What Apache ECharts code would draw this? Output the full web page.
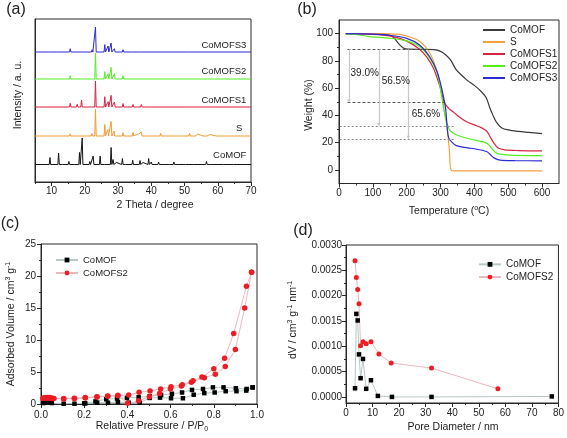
<!DOCTYPE html>
<html><head><meta charset="utf-8">
<script src="https://cdn.jsdelivr.net/npm/echarts@6/dist/echarts.min.js"></script>
<style>html,body{margin:0;padding:0;background:#fff}#c{width:567px;height:438px}</style>
</head><body><div id="c"></div>
<script>
// ---------- (a) XRD: baselines (offset units) and peaks [2theta, height] ----------
const xrdNames = ['CoMOF', 'S', 'CoMOFS1', 'CoMOFS2', 'CoMOFS3'];
const xrdBase = [17.5, 46, 75, 103, 130];
const xrdCoMOF = [[9.5,7],[12.1,11.5],[13.5,1.5],[15.2,3],[17.2,1.5],[18.4,12],[19.2,26.5],[21.5,3],[22.5,8.5],[24.6,8.5],[26.2,2],[27.9,17],[28.5,5],[29.5,2],[31.3,6],[32.5,1.5],[34.4,4.3],[36.6,4],[37.5,2],[39.2,6],[40.0,2.5],[42.2,2.5],[44.0,1.5],[45.8,2],[46.8,2.5],[48.5,1.5],[50.5,1.5],[53.0,1],[56.6,3],[58.0,1.5],[62.0,1],[65.0,1]];
const xrdS = [[11.5,1],[15.6,2.2],[19.0,1],[22.1,2.5],[23.2,26.7],[24.5,1.5],[26.0,11.5],[26.9,6.5],[27.9,14.5],[28.8,5],[29.5,1.5],[31.5,3.3],[33.0,1.3],[34.5,3.7],[35.5,1.5],[36.2,2],[37.0,4],[38.8,1.5],[40.0,1],[42.8,2.7],[44.5,1],[46.5,1.5],[48.3,1.8],[50.0,1],[51.5,2.7],[52.3,1.2],[53.0,2],[54.0,2],[55.8,1.7],[57.0,1.2],[57.6,1.5],[59.8,1.2],[62.0,0.8],[65.6,1],[68.0,0.8]];
const xrdS1 = [[11.8,1.8],[15.6,3.7],[17.7,2.7],[19.0,7],[22.2,2],[23.2,26],[26.0,10.3],[27.0,5.3],[27.9,11.7],[28.9,5],[31.5,3.5],[33.0,1],[34.5,2.5],[36.0,1.2],[37.0,2.5],[38.8,1],[42.8,2],[46.5,1],[48.3,1.2],[51.4,2],[53.0,1.5],[54.0,1.2],[56.0,1],[58.0,0.8]];
const xrdS2 = [[11.8,1.5],[15.6,3.3],[19.2,1.5],[22.2,1.5],[23.2,25.7],[26.0,7.3],[27.0,5.3],[27.9,11.7],[28.9,5.3],[31.5,3.3],[34.5,2],[37.0,1.8],[42.8,1.5],[48.3,0.8],[51.4,1.5],[53.0,1],[55.8,0.8]];
const xrdS3 = [[9.2,0.8],[12.0,1.7],[15.6,3.3],[22.2,2.3],[23.2,25],[26.0,7.3],[27.0,6],[27.9,9],[28.9,3.3],[31.5,2.3],[34.5,1.7],[37.0,1.5],[42.8,1.2],[48.0,0.8],[51.4,1.2],[53.0,1],[57.0,0.6]];
const aXTicks = [10, 20, 30, 40, 50, 60, 70];
const aXMinor = [5, 15, 25, 35, 45, 55, 65];

// ---------- (b) TGA [T, weight %] ----------
const tgaCoMOF = [[20,100],[100,100],[140,99.5],[160,97.5],[175,93],[190,89.5],[205,88.6],[250,88.5],[280,88.3],[300,87],[315,84.5],[330,80.5],[345,74],[360,70],[380,65.5],[400,62],[420,57.5],[435,53],[445,46],[455,40],[465,35],[480,31],[500,29.3],[530,28.2],[560,27.5],[600,26.6]];
const tgaS = [[20,100],[100,100],[180,99.5],[210,97.5],[235,95],[255,90.5],[270,85],[285,76],[297,64],[305,53],[312,42],[319,32],[326,15],[333,-0.5],[400,-0.8],[600,-0.8]];
const tgaS1 = [[20,100],[100,99.5],[150,98.3],[200,94.5],[238,88.5],[260,82.5],[280,74],[297,62],[305,55],[312,49],[325,45],[340,42],[357,38.5],[380,35],[400,33],[420,31],[436,28.5],[446,24.5],[458,19.5],[470,16],[490,14.7],[530,14.2],[600,13.9]];
const tgaS2 = [[20,100],[60,99],[90,97.8],[150,96.6],[200,94.7],[238,90.5],[268,82],[290,71],[302,56],[310,44],[317,36],[325,30],[337,27],[360,24.5],[390,22.5],[426,20.5],[440,19],[450,16],[462,13],[475,11.5],[520,10.7],[600,10.5]];
const tgaS3 = [[20,100],[100,99.7],[150,98.8],[200,96.5],[238,91.7],[268,83],[290,72],[305,58],[315,45],[320,30],[324,23.5],[335,20],[345,18],[370,16.5],[400,15.5],[436,13.5],[446,11.5],[458,8.8],[476,7.2],[520,6.8],[600,6.6]];
const bXTicks = [0, 100, 200, 300, 400, 500, 600];
const bXMinor = [50, 150, 250, 350, 450, 550];
const bYTicks = [0, 20, 40, 60, 80, 100];
const bYMinor = [10, 30, 50, 70, 90];
const lossLabels = ['39.0%', '56.5%', '65.6%'];

// ---------- (c) isotherms [P/P0, volume] ----------
const isoCoMOFads = [[0.01,0.15],[0.02,0.2],[0.03,0.2],[0.04,0.2],[0.05,0.15],[0.105,0.05],[0.155,0.05],[0.205,0.1],[0.26,0.2],[0.31,0.2],[0.356,0.3],[0.406,0.2],[0.457,0.2],[0.503,0.95],[0.551,1.0],[0.602,0.9],[0.657,0.9],[0.707,1.45],[0.756,1.7],[0.804,1.8],[0.855,2.0],[0.905,2.0],[0.95,2.1],[0.98,2.6]];
const isoCoMOFdes = [[0.98,2.6],[0.952,2.35],[0.902,2.45],[0.845,2.6],[0.796,2.6],[0.75,2.35],[0.699,2.2],[0.653,1.8],[0.606,1.6],[0.556,1.4],[0.503,1.2],[0.452,1.05],[0.398,0.95],[0.352,0.85],[0.302,0.75],[0.252,0.4],[0.2,0.1]];
const isoS2ads = [[0.01,0.9],[0.02,0.95],[0.03,0.95],[0.04,0.9],[0.05,0.85],[0.105,0.8],[0.155,0.85],[0.205,0.95],[0.259,1.1],[0.309,1.2],[0.356,1.3],[0.401,0.1],[0.452,0.5],[0.502,1.15],[0.549,1.65],[0.599,2.35],[0.65,2.8],[0.696,3.4],[0.756,4.1],[0.807,4.65],[0.853,5.85],[0.90,8.5],[0.943,15.0],[0.975,20.6]];
const isoS2des = [[0.975,20.6],[0.951,18.4],[0.892,11.0],[0.850,7.15],[0.80,5.5],[0.745,4.2],[0.704,3.65],[0.654,3.0],[0.602,2.7],[0.554,2.35],[0.505,2.04],[0.454,1.83],[0.406,1.4],[0.356,1.36],[0.309,1.25],[0.259,1.15],[0.205,1.0],[0.154,0.89],[0.105,0.84],[0.06,0.85],[0.05,0.95],[0.04,1.0],[0.03,1.0],[0.02,1.0],[0.01,0.9]];
const cXTicks = [0, 0.2, 0.4, 0.6, 0.8, 1.0];
const cXMinor = [0.1, 0.3, 0.5, 0.7, 0.9];
const cYTicks = [0, 5, 10, 15, 20, 25];
const cYMinor = [2.5, 7.5, 12.5, 17.5, 22.5];

// ---------- (d) pore size [nm, dV] ----------
const poreCoMOF = [[3.4,0.00017],[3.9,0.00164],[4.4,0.00151],[4.9,0.00084],[5.5,0.00037],[6.4,0.00075],[7.6,0.00016],[9.4,0.00033],[12.0,0.00002],[17.3,0.0],[32.2,0.0],[77.5,0.00001]];
const poreS2 = [[3.4,0.00269],[3.9,0.00236],[4.4,0.00212],[4.9,0.00184],[5.5,0.00101],[6.4,0.00109],[7.6,0.00105],[9.4,0.00109],[12.4,0.00085],[17.0,0.00067],[32.2,0.00057],[57.2,0.00016]];
const dXTicks = [0, 10, 20, 30, 40, 50, 60, 70, 80];
const dXMinor = [5, 15, 25, 35, 45, 55, 65, 75];
const dYTicks = [0, 0.0005, 0.001, 0.0015, 0.002, 0.0025, 0.003];
const dYMinor = [0.00025, 0.00075, 0.00125, 0.00175, 0.00225, 0.00275];

// ---------------------------------------------------------------
const FF = '"Liberation Sans", Arial, sans-serif';
const AX = '#2a2a2a';

function xrdLine(base, peaks) {
  const pts = [[5, base]];
  peaks.slice().sort((a, b) => a[0] - b[0]).forEach(p => {
    pts.push([p[0] - 0.22, base], [p[0], base + p[1]], [p[0] + 0.22, base]);
  });
  pts.push([70, base]);
  return pts;
}

function mainAxis(grid, min, max, ticks, fmt, pos, margin, showLabel) {
  return {
    type: 'value', gridIndex: grid, min: min, max: max, position: pos,
    axisLine: { show: true, onZero: false, lineStyle: { color: AX, width: 1 } },
    axisTick: { show: ticks.length > 0, customValues: ticks, length: 4, lineStyle: { color: AX, width: 1 } },
    axisLabel: { show: showLabel !== false, customValues: ticks, formatter: fmt, fontSize: 10, color: '#222', fontFamily: FF, margin: margin },
    splitLine: { show: false }
  };
}
function minorAxis(grid, min, max, ticks, pos) {
  return {
    type: 'value', gridIndex: grid, min: min, max: max, position: pos,
    axisLine: { show: false, onZero: false },
    axisTick: { show: ticks.length > 0, customValues: ticks, length: 2, lineStyle: { color: AX, width: 1 } },
    axisLabel: { show: false },
    splitLine: { show: false }
  };
}
const gridStyle = { show: true, borderColor: AX, borderWidth: 1, backgroundColor: 'transparent' };

const xAxis = [
  mainAxis(0, 5, 70, aXTicks, v => String(v), 'bottom', 4),
  minorAxis(0, 5, 70, aXMinor, 'bottom'),
  mainAxis(1, 0, 650, bXTicks, v => String(v), 'bottom', 5),
  minorAxis(1, 0, 650, bXMinor, 'bottom'),
  mainAxis(2, 0, 1, cXTicks, v => v.toFixed(1), 'bottom', 6),
  minorAxis(2, 0, 1, cXMinor, 'bottom'),
  mainAxis(3, 0, 80, dXTicks, v => String(v), 'bottom', 5),
  minorAxis(3, 0, 80, dXMinor, 'bottom')
];
const yAxis = [
  mainAxis(0, 0, 163, [], v => '', 'left', 4, false),
  minorAxis(0, 0, 163, [], 'left'),
  mainAxis(1, -10, 110, bYTicks, v => String(v), 'left', 6),
  minorAxis(1, -10, 110, bYMinor, 'left'),
  mainAxis(2, 0, 25, cYTicks, v => String(v), 'left', 5),
  minorAxis(2, 0, 25, cYMinor, 'left'),
  mainAxis(3, -0.00012, 0.003, dYTicks, v => v.toFixed(4), 'left', 4),
  minorAxis(3, -0.00012, 0.003, dYMinor, 'left')
];

const xrdColors = ['#151515', '#f39a33', '#d8213d', '#52ee24', '#2a2ad2'];
const xrdData = [xrdCoMOF, xrdS, xrdS1, xrdS2, xrdS3];
const xrdLabelDy = [8.8, 8, 7, 7.3, 6.3];
const xrdLabelX = [68.6, 67.4, 68.6, 68.6, 68.6];

const series = [];
xrdNames.forEach((n, i) => {
  series.push({
    name: n + '#a', type: 'line', xAxisIndex: 0, yAxisIndex: 0,
    data: xrdLine(xrdBase[i], xrdData[i]), symbol: 'none',
    lineStyle: { color: xrdColors[i], width: 1 }, itemStyle: { color: xrdColors[i] },
    markPoint: {
      symbol: 'circle', symbolSize: 0, silent: true, animation: false,
      label: { show: true, position: 'left', distance: 0, formatter: '{b}', color: '#222', fontSize: 9.5, fontFamily: FF },
      data: [{ name: n, coord: [xrdLabelX[i], xrdBase[i] + xrdLabelDy[i]] }]
    }
  });
});

const tgaColors = ['#3a3a3a', '#f5a23e', '#d8243e', '#55ee22', '#2b2bd6'];
const tgaData = [tgaCoMOF, tgaS, tgaS1, tgaS2, tgaS3];
xrdNames.forEach((n, i) => {
  series.push({
    name: n, type: 'line', xAxisIndex: 2, yAxisIndex: 2,
    data: tgaData[i], symbol: 'none', smooth: 0.3,
    lineStyle: { color: tgaColors[i], width: 1.2 }, itemStyle: { color: tgaColors[i] }
  });
});
// guide lines, arrows and loss labels for (b)
series.push({
  name: 'guides#b', type: 'line', xAxisIndex: 2, yAxisIndex: 2, data: [], symbol: 'none',
  markLine: {
    silent: true, animation: false, symbol: ['none', 'none'], label: { show: false },
    data: [
      [{ coord: [25, 88.5], lineStyle: { color: '#444', type: [3, 2], width: 0.9 } }, { coord: [292, 88.5] }],
      [{ coord: [25, 49.6], lineStyle: { color: '#444', type: [3, 2], width: 0.9 } }, { coord: [310, 49.6] }],
      [{ coord: [2, 32.2], lineStyle: { color: '#8a8a8a', type: [2, 2], width: 1 } }, { coord: [345, 32.2] }],
      [{ coord: [2, 22.8], lineStyle: { color: '#8a8a8a', type: [2, 2], width: 1 } }, { coord: [345, 22.8] }],
      [{ coord: [29, 88.5], symbol: 'none', lineStyle: { color: '#c8c8c8', type: 'solid', width: 1.2 } }, { coord: [29, 50.5], symbol: 'triangle', symbolSize: 3.5, symbolRotate: 180, itemStyle: { color: '#333' } }],
      [{ coord: [118, 88.5], symbol: 'none', lineStyle: { color: '#c8c8c8', type: 'solid', width: 1.2 } }, { coord: [118, 33.2], symbol: 'triangle', symbolSize: 3.5, symbolRotate: 180, itemStyle: { color: '#333' } }],
      [{ coord: [205, 88.5], symbol: 'none', lineStyle: { color: '#c8c8c8', type: 'solid', width: 1.2 } }, { coord: [205, 23.8], symbol: 'triangle', symbolSize: 3.5, symbolRotate: 180, itemStyle: { color: '#333' } }]
    ]
  },
  markPoint: {
    symbol: 'circle', symbolSize: 0, silent: true, animation: false,
    label: { show: true, position: 'right', distance: 0, formatter: '{b}', color: '#222', fontSize: 10, fontFamily: FF },
    data: [
      { name: lossLabels[0], coord: [34, 71] },
      { name: lossLabels[1], coord: [126, 64.8] },
      { name: lossLabels[2], coord: [215, 40.9] }
    ]
  }
});

// (c)
series.push({
  name: 'CoMOF#c', type: 'line', xAxisIndex: 4, yAxisIndex: 4,
  data: isoCoMOFads.concat(isoCoMOFdes), symbol: 'rect', symbolSize: 4.5,
  lineStyle: { color: '#b6c8c8', width: 1 }, itemStyle: { color: '#000' }
});
series.push({
  name: 'CoMOFS2#c', type: 'line', xAxisIndex: 4, yAxisIndex: 4,
  data: isoS2ads.concat(isoS2des), symbol: 'circle', symbolSize: 5.5,
  lineStyle: { color: '#ecb8c0', width: 1 }, itemStyle: { color: '#ee1c24' }
});
// (d)
series.push({
  name: 'CoMOF#d', type: 'line', xAxisIndex: 6, yAxisIndex: 6,
  data: poreCoMOF, symbol: 'rect', symbolSize: 4.5,
  lineStyle: { color: '#b6c8c8', width: 1 }, itemStyle: { color: '#000' }
});
series.push({
  name: 'CoMOFS2#d', type: 'line', xAxisIndex: 6, yAxisIndex: 6,
  data: poreS2, symbol: 'circle', symbolSize: 5,
  lineStyle: { color: '#ecb8c0', width: 1 }, itemStyle: { color: '#ee1c24' }
});

const legFmt = n => n.split('#')[0];
const legend = [
  { left: 483, top: 24, orient: 'vertical', padding: 0, itemWidth: 22, itemHeight: 2, itemGap: 0, selectedMode: false,
    icon: 'rect',
    data: ['CoMOF', 'S', 'CoMOFS1', 'CoMOFS2', 'CoMOFS3'], formatter: legFmt,
    textStyle: { fontSize: 10, color: '#222', lineHeight: 12, fontFamily: FF } },
  { left: 55, top: 253.5, orient: 'vertical', padding: 0, itemWidth: 22, itemHeight: 6, itemGap: 0, selectedMode: false,
    data: ['CoMOF#c', 'CoMOFS2#c'], formatter: legFmt,
    textStyle: { fontSize: 9.5, color: '#222', lineHeight: 13, fontFamily: FF } },
  { left: 478, top: 258, orient: 'vertical', padding: 0, itemWidth: 22, itemHeight: 6, itemGap: 0, selectedMode: false,
    data: ['CoMOF#d', 'CoMOFS2#d'], formatter: legFmt,
    textStyle: { fontSize: 10, color: '#222', lineHeight: 12.7, fontFamily: FF } }
];

function txt(x, y, text, size, rot, rich) {
  const st = { text: text, fontSize: size, fontFamily: FF, fill: '#222', align: 'center', verticalAlign: 'middle', textAlign: 'center', textVerticalAlign: 'middle' };
  if (rich) st.rich = rich;
  return { type: 'text', x: x, y: y, rotation: rot || 0, silent: true, style: st };
}
const R = {
  n: { fontSize: 10.5, fontFamily: FF, fill: '#222', lineHeight: 13, verticalAlign: 'middle' },
  s: { fontSize: 7, fontFamily: FF, fill: '#222', lineHeight: 13, verticalAlign: 'top' },
  u: { fontSize: 7, fontFamily: FF, fill: '#222', lineHeight: 13, verticalAlign: 'bottom' }
};
const graphic = [
  txt(16, 10, '(a)', 16), txt(307, 10, '(b)', 16), txt(10, 224, '(c)', 16), txt(303, 231, '(d)', 16),
  txt(155, 205, '2 Theta / degree', 10.5),
  txt(18, 95, 'Intensity / a. u.', 10.5, Math.PI / 2),
  txt(309, 105, 'Weight (%)', 10.5, Math.PI / 2),
  txt(449, 211, '{n|Temperature (}{s|o}{n|C)}', 10.5, 0, R),
  txt(152, 426, '{n|Relative Pressure / P/P}{u|0}', 10.5, 0, R),
  txt(11, 324, '{n|Adsorbed Volume / cm}{s|3}{n| g}{s|-1}', 10.5, Math.PI / 2, R),
  txt(453, 427, 'Pore Diameter / nm', 10.5),
  txt(293, 320, '{n|dV / cm}{s|3}{n| g}{s|-1}{n| nm}{s|-1}', 10.5, Math.PI / 2, R)
];

const chart = echarts.init(document.getElementById('c'), null, { renderer: 'canvas' });
chart.setOption({
  animation: false,
  backgroundColor: '#fff',
  grid: [
    Object.assign({ left: 35, top: 19, width: 216, height: 163 }, gridStyle),
    Object.assign({ left: 339, top: 20, width: 220, height: 163.5 }, gridStyle),
    Object.assign({ left: 41, top: 244, width: 216, height: 160 }, gridStyle),
    Object.assign({ left: 346, top: 245, width: 213, height: 158 }, gridStyle)
  ],
  xAxis: xAxis,
  yAxis: yAxis,
  legend: legend,
  series: series,
  graphic: graphic
});
</script></body></html>
